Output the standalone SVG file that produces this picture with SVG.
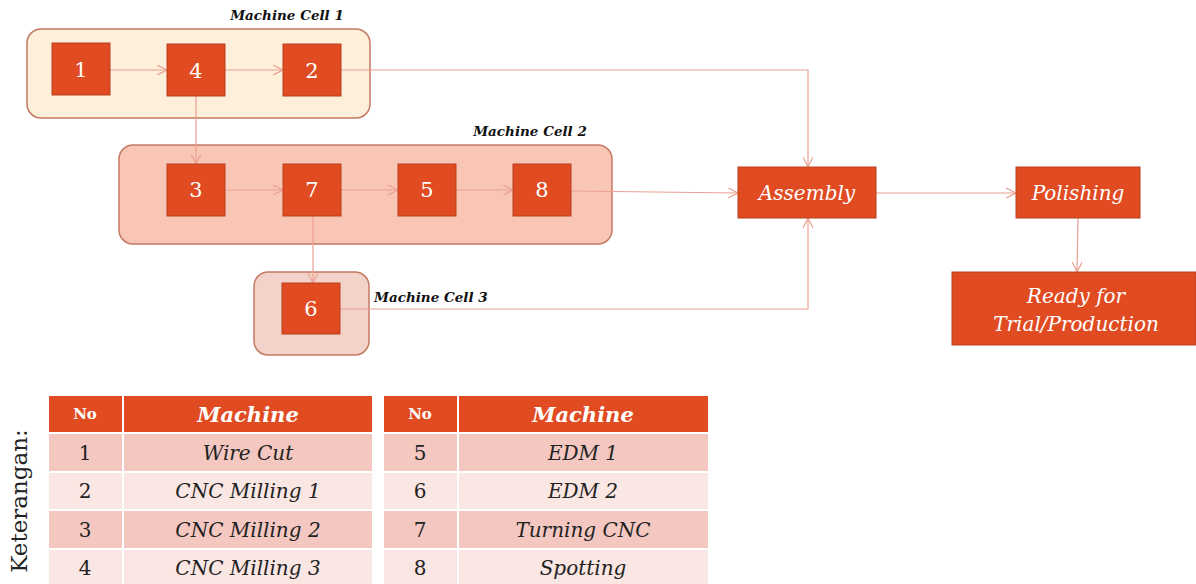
<svg xmlns="http://www.w3.org/2000/svg" width="1196" height="584" viewBox="0 0 1196 584">
<defs>
<style>
.box{fill:#e14b22;stroke:#b8401f;stroke-width:1}
.num{font-family:"DejaVu Serif",serif;font-size:21px;fill:#fff;text-anchor:middle;dominant-baseline:central}
.big{font-family:"DejaVu Serif",serif;font-style:italic;font-size:20px;fill:#fff;text-anchor:middle;dominant-baseline:central}
.cell{font-family:"DejaVu Serif",serif;font-style:italic;font-weight:bold;font-size:13.5px;fill:#111}
.con{fill:none;stroke:#e9a092;stroke-width:1.2}
.hdr{fill:#e14b22}
.r1{fill:#f4c8c1}
.r2{fill:#fae6e2}
.th{font-family:"DejaVu Serif",serif;font-weight:bold;fill:#fff;text-anchor:middle;dominant-baseline:central}
.td{font-family:"DejaVu Serif",serif;font-size:20px;fill:#222;text-anchor:middle;dominant-baseline:central}
.tdi{font-family:"DejaVu Serif",serif;font-style:italic;font-size:20px;fill:#222;text-anchor:middle;dominant-baseline:central}
</style>
<marker id="arr" viewBox="0 0 10 10" refX="10" refY="5" markerWidth="10" markerHeight="10" markerUnits="userSpaceOnUse" orient="auto">
<path d="M0,0 L10,5 L0,10" fill="none" stroke="#e9a092" stroke-width="1.2"/>
</marker>
</defs>
<rect width="1196" height="584" fill="#fff"/>

<g id="cell1">
<rect x="27" y="29" width="343" height="89" rx="14" fill="#fdefd9" stroke="#c47a62" stroke-width="1.5"/>
<text class="cell" x="287" y="20" text-anchor="middle">Machine Cell 1</text>
</g>
<g id="cell2">
<rect x="119" y="145" width="493" height="99" rx="14" fill="#f9c6b5" stroke="#c47a62" stroke-width="1.5"/>
<text class="cell" x="530" y="136" text-anchor="middle">Machine Cell 2</text>
</g>
<g id="cell3">
<rect x="254" y="272" width="115" height="83" rx="14" fill="#f3d3c9" stroke="#c47a62" stroke-width="1.5"/>
<text class="cell" x="374" y="302">Machine Cell 3</text>
</g>

<g id="connectors">
<line class="con" x1="110" y1="70" x2="167" y2="70" marker-end="url(#arr)"/>
<line class="con" x1="225" y1="70" x2="283" y2="70" marker-end="url(#arr)"/>
<polyline class="con" points="341,70 808,70 808,167" marker-end="url(#arr)"/>
<line class="con" x1="196" y1="96" x2="196" y2="164" marker-end="url(#arr)"/>
<line class="con" x1="225" y1="190" x2="283" y2="190" marker-end="url(#arr)"/>
<line class="con" x1="341" y1="190" x2="398" y2="190" marker-end="url(#arr)"/>
<line class="con" x1="456" y1="190" x2="513" y2="190" marker-end="url(#arr)"/>
<line class="con" x1="571" y1="191" x2="738" y2="193" marker-end="url(#arr)"/>
<line class="con" x1="313" y1="216" x2="313" y2="283" marker-end="url(#arr)"/>
<polyline class="con" points="340,309 808,309 808,218" marker-end="url(#arr)"/>
<line class="con" x1="876" y1="193" x2="1016" y2="193" marker-end="url(#arr)"/>
<line class="con" x1="1078" y1="218" x2="1077" y2="272" marker-end="url(#arr)"/>
</g>

<g id="n1"><rect class="box" x="52" y="43" width="58" height="52"/><text class="num" x="81" y="70">1</text></g>
<g id="n4"><rect class="box" x="167" y="44" width="58" height="52"/><text class="num" x="196" y="71">4</text></g>
<g id="n2"><rect class="box" x="283" y="44" width="58" height="52"/><text class="num" x="312" y="71">2</text></g>
<g id="n3"><rect class="box" x="167" y="164" width="58" height="52"/><text class="num" x="196" y="190">3</text></g>
<g id="n7"><rect class="box" x="283" y="164" width="58" height="52"/><text class="num" x="312" y="190">7</text></g>
<g id="n5"><rect class="box" x="398" y="164" width="58" height="52"/><text class="num" x="427" y="190">5</text></g>
<g id="n8"><rect class="box" x="513" y="164" width="58" height="52"/><text class="num" x="542" y="190">8</text></g>
<g id="n6"><rect class="box" x="282" y="283" width="58" height="51"/><text class="num" x="311" y="309">6</text></g>
<g id="assembly"><rect class="box" x="738" y="167" width="138" height="51"/><text class="big" x="807" y="193">Assembly</text></g>
<g id="polishing"><rect class="box" x="1016" y="167" width="124" height="51"/><text class="big" x="1078" y="193">Polishing</text></g>
<g id="ready"><rect class="box" x="952" y="272" width="244" height="73"/><text class="big" x="1076" y="296">Ready for</text><text class="big" x="1076" y="324">Trial/Production</text></g>

<g id="legend">
<text transform="translate(19,501) rotate(-90)" font-family="DejaVu Serif,serif" font-size="23" fill="#222" text-anchor="middle" dominant-baseline="central">Keterangan:</text>
</g>

<g id="table1">
<rect class="hdr" x="49" y="396" width="73" height="36"/>
<rect class="hdr" x="124" y="396" width="248" height="36"/>
<rect class="r1" x="49" y="434" width="73" height="37"/><rect class="r1" x="124" y="434" width="248" height="37"/>
<rect class="r2" x="49" y="473" width="73" height="36"/><rect class="r2" x="124" y="473" width="248" height="36"/>
<rect class="r1" x="49" y="511" width="73" height="37"/><rect class="r1" x="124" y="511" width="248" height="37"/>
<rect class="r2" x="49" y="550" width="73" height="34"/><rect class="r2" x="124" y="550" width="248" height="34"/>
<text class="th" x="85" y="414" font-size="15">No</text>
<text class="th" x="248" y="414" font-size="21" font-style="italic">Machine</text>
<text class="td" x="85" y="453">1</text><text class="tdi" x="248" y="453">Wire Cut</text>
<text class="td" x="85" y="491">2</text><text class="tdi" x="248" y="491">CNC Milling 1</text>
<text class="td" x="85" y="530">3</text><text class="tdi" x="248" y="530">CNC Milling 2</text>
<text class="td" x="85" y="568">4</text><text class="tdi" x="248" y="568">CNC Milling 3</text>
</g>

<g id="table2">
<rect class="hdr" x="384" y="396" width="73" height="36"/>
<rect class="hdr" x="459" y="396" width="249" height="36"/>
<rect class="r1" x="384" y="434" width="73" height="37"/><rect class="r1" x="459" y="434" width="249" height="37"/>
<rect class="r2" x="384" y="473" width="73" height="36"/><rect class="r2" x="459" y="473" width="249" height="36"/>
<rect class="r1" x="384" y="511" width="73" height="37"/><rect class="r1" x="459" y="511" width="249" height="37"/>
<rect class="r2" x="384" y="550" width="73" height="34"/><rect class="r2" x="459" y="550" width="249" height="34"/>
<text class="th" x="420" y="414" font-size="15">No</text>
<text class="th" x="583" y="414" font-size="21" font-style="italic">Machine</text>
<text class="td" x="420" y="453">5</text><text class="tdi" x="583" y="453">EDM 1</text>
<text class="td" x="420" y="491">6</text><text class="tdi" x="583" y="491">EDM 2</text>
<text class="td" x="420" y="530">7</text><text class="tdi" x="583" y="530">Turning CNC</text>
<text class="td" x="420" y="568">8</text><text class="tdi" x="583" y="568">Spotting</text>
</g>
</svg>
